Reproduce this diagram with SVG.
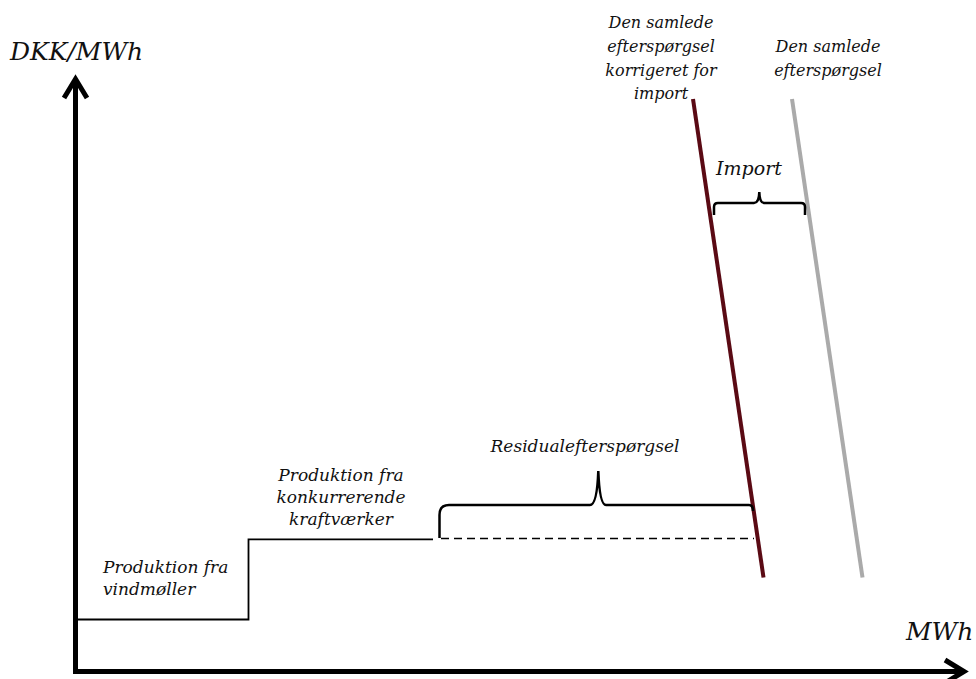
<svg xmlns="http://www.w3.org/2000/svg" width="976" height="679" viewBox="0 0 976 679">
<style>
text{font-family:"DejaVu Serif","Liberation Serif",serif;font-style:italic;fill:#111;}
.lbl{font-size:16px;}
.mid{font-size:17px;}
.big{font-size:25px;}
.ax{stroke:#000;stroke-width:5;fill:none;}
.thin{stroke:#000;stroke-width:1.8;fill:none;}
.brace{stroke:#000;stroke-width:2.5;fill:none;}
</style>
<rect width="976" height="679" fill="#fff"/>
<g id="axes">
<path class="ax" d="M75.5,79 V671.5 H964"/>
<path class="ax" d="M64,98 L75.5,79 L87,98"/>
<path class="ax" d="M945,660 L964,671.5 L945,683"/>
<text id="ylabel" class="big" x="10" y="60">DKK/MWh</text>
<text id="xlabel" class="big" x="906" y="640">MWh</text>
</g>
<g id="connectors">
<path id="supply" class="thin" d="M77,619.5 H248.5 V539.3 H433"/>
<path id="residual-dash" d="M441,538.5 H754" stroke="#000" stroke-width="1.5" stroke-dasharray="8,5" fill="none"/>
<line id="demand-corrected" x1="693" y1="99" x2="763.5" y2="577.5" stroke="#5a0a14" stroke-width="4"/>
<line id="demand-total" x1="792" y1="99" x2="862.5" y2="577.5" stroke="#aaaaaa" stroke-width="4"/>
<path id="residual-brace" class="brace" d="M439.5,538 V515 Q439.5,505 449,505 L590,505 Q597,505 598.3,471 Q599.6,505 606,505 L749,505 Q753,505 753,511"/>
<path id="import-brace" class="brace" d="M714,215 V207 Q714,203 718,203 L754,203 Q759,203 759.3,192 Q759.6,203 764,203 L801,203 Q805,203 805,207 V215"/>
</g>
<g id="node-wind">
<text class="mid" x="103" y="573">Produktion fra</text>
<text class="mid" x="103" y="595">vindmøller</text>
</g>
<g id="node-competing" text-anchor="middle">
<text class="mid" x="341" y="481">Produktion fra</text>
<text class="mid" x="341" y="503">konkurrerende</text>
<text class="mid" x="341" y="525">kraftværker</text>
</g>
<g id="node-residual">
<text class="mid" x="585" y="452" text-anchor="middle">Residualefterspørgsel</text>
</g>
<g id="node-import">
<text x="749" y="175" text-anchor="middle" style="font-size:19px">Import</text>
</g>
<g id="node-demand-corrected" text-anchor="middle">
<text class="lbl" x="661" y="28">Den samlede</text>
<text class="lbl" x="661" y="52">efterspørgsel</text>
<text class="lbl" x="661" y="76">korrigeret for</text>
<text class="lbl" x="661" y="99">import</text>
</g>
<g id="node-demand-total" text-anchor="middle">
<text class="lbl" x="828" y="52">Den samlede</text>
<text class="lbl" x="828" y="76">efterspørgsel</text>
</g>
</svg>
